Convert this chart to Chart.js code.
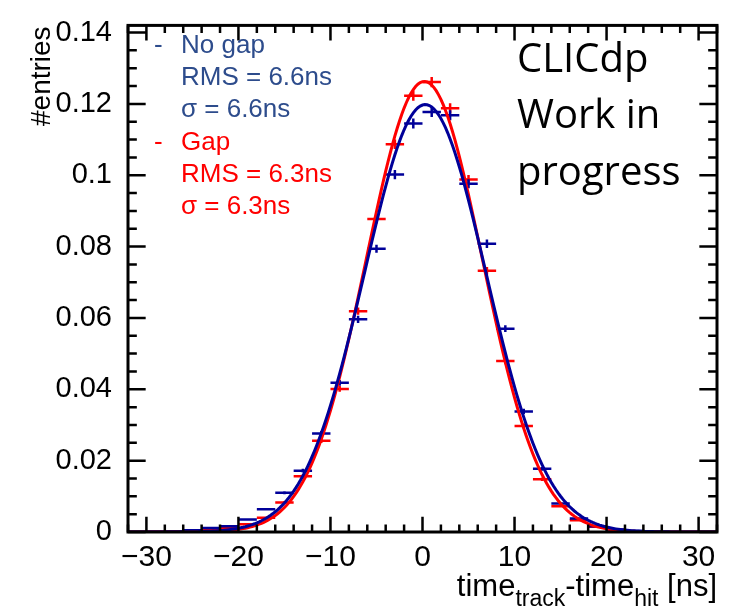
<!DOCTYPE html>
<html>
<head>
<meta charset="utf-8">
<script src="https://cdn.jsdelivr.net/npm/chart.js@4.4.1/dist/chart.umd.min.js"></script>
<style>
  html, body { margin: 0; padding: 0; background: #fff; }
  #wrap { width: 736px; height: 610px; }
</style>
</head>
<body>
<div id="wrap"><canvas id="timeChart" width="736" height="610"></canvas></div>
<script>
// bin centres (2 ns bins from -32 to 32)
const binCenters = [-31, -29, -27, -25, -23, -21, -19, -17, -15, -13, -11, -9, -7, -5, -3, -1,
  1, 3, 5, 7, 9, 11, 13, 15, 17, 19, 21, 23, 25, 27, 29, 31];

// normalised entries per bin
const noGapValues = [0.0000, 0.0001, 0.0002, 0.0005, 0.0011, 0.0016, 0.0035, 0.0064, 0.0110, 0.0172,
  0.0276, 0.0418, 0.0596, 0.0794, 0.1002, 0.1145, 0.1177, 0.1168, 0.0976, 0.0808, 0.0570, 0.0338,
  0.0177, 0.0080, 0.0038, 0.0016, 0.0006, 0.0003, 0.0001, 0.0000, 0.0000, 0.0000];
const gapValues = [0.0000, 0.0001, 0.0002, 0.0004, 0.0008, 0.0012, 0.0022, 0.0040, 0.0083, 0.0156,
  0.0256, 0.0401, 0.0619, 0.0877, 0.1087, 0.1223, 0.1261, 0.1188, 0.0988, 0.0732, 0.0479, 0.0297,
  0.0148, 0.0072, 0.0033, 0.0015, 0.0006, 0.0002, 0.0001, 0.0000, 0.0000, 0.0000];

// gaussian fit results [no gap, gap]
const fitConst = [0.1198, 0.1263];
const fitMean = [0.3, 0.2];
const fitSigma = [6.6, 6.3];

const seriesNames = ['No gap', 'Gap'];
const rmsValues = [6.6, 6.3];
const entriesTotal = 60000;

const xMajorTicks = [-30, -20, -10, 0, 10, 20, 30];
const yMajorTicks = [0, 0.02, 0.04, 0.06, 0.08, 0.1, 0.12, 0.14];
const xRange = [-32, 32];
const yRange = [0, 0.142];

const BLUE = '#000099';
const RED = '#ff0000';
const BLUE_TEXT = '#2d4c8c';
const LABEL_FONT = '"Liberation Sans", Arial, Helvetica, sans-serif';

function fitCurve(i) {
  const pts = [];
  for (let x = xRange[0]; x <= xRange[1] + 1e-9; x += 0.25) {
    const d = (x - fitMean[i]) / fitSigma[i];
    pts.push({ x: x, y: fitConst[i] * Math.exp(-0.5 * d * d) });
  }
  return pts;
}

function fmtY(v) {
  return v === 0 ? '0' : String(parseFloat(v.toFixed(2)));
}
function fmtX(v) {
  return v < 0 ? '\u2212' + Math.abs(v) : String(v);
}

// histogram points with horizontal bin-width bars and statistical error bars
const errorCrosses = {
  id: 'errorCrosses',
  beforeDatasetsDraw(chart) {
    const { ctx, chartArea, scales: { x, y } } = chart;
    const sets = [[gapValues, RED], [noGapValues, BLUE]];
    ctx.save();
    ctx.beginPath();
    ctx.rect(chartArea.left, chartArea.top, chartArea.width, chartArea.height);
    ctx.clip();
    ctx.lineWidth = 2.5;
    sets.forEach(([vals, color]) => {
      ctx.strokeStyle = color;
      binCenters.forEach((c, i) => {
        const v = vals[i];
        const err = Math.sqrt(v / entriesTotal);
        const py = y.getPixelForValue(v);
        const px = x.getPixelForValue(c);
        ctx.beginPath();
        ctx.moveTo(x.getPixelForValue(c - 1), py);
        ctx.lineTo(x.getPixelForValue(c + 1), py);
        ctx.moveTo(px, y.getPixelForValue(v - err));
        ctx.lineTo(px, y.getPixelForValue(v + err));
        ctx.stroke();
      });
    });
    ctx.restore();
  }
};

// ROOT style frame with inward ticks and the text annotations
const frameAndText = {
  id: 'frameAndText',
  afterDraw(chart) {
    const { ctx, chartArea: a, scales: { x, y } } = chart;
    const xTickLen = 0.03 * a.height;
    const yTickLen = 0.03 * a.width;
    ctx.save();
    ctx.strokeStyle = '#000';
    ctx.lineWidth = 2.5;
    ctx.beginPath();
    for (let v = xRange[0]; v <= xRange[1]; v += 2) {
      const px = x.getPixelForValue(v);
      const len = xMajorTicks.includes(v) ? xTickLen : xTickLen / 2;
      ctx.moveTo(px, a.bottom); ctx.lineTo(px, a.bottom - len);
      ctx.moveTo(px, a.top); ctx.lineTo(px, a.top + len);
    }
    for (let k = 0; k * 0.005 <= yRange[1] + 1e-9; k++) {
      const v = k * 0.005;
      const py = y.getPixelForValue(v);
      const len = k % 4 === 0 ? yTickLen : yTickLen / 2;
      ctx.moveTo(a.left, py); ctx.lineTo(a.left + len, py);
      ctx.moveTo(a.right, py); ctx.lineTo(a.right - len, py);
    }
    ctx.stroke();
    ctx.lineWidth = 3;
    ctx.strokeRect(a.left, a.top, a.width, a.height);

    // legend block
    ctx.font = '26px ' + LABEL_FONT;
    ctx.textBaseline = 'alphabetic';
    ctx.textAlign = 'left';
    const legendColors = [BLUE_TEXT, RED];
    seriesNames.forEach((name, i) => {
      const base = 53 + i * 97;
      ctx.fillStyle = legendColors[i];
      ctx.fillText('-', 154, base);
      ctx.fillText(name, 181, base);
      ctx.fillText('RMS = ' + rmsValues[i] + 'ns', 181, base + 32);
      ctx.fillText('\u03c3 = ' + fitSigma[i] + 'ns', 181, base + 64);
    });

    // label block
    ctx.fillStyle = '#000';
    ctx.font = '40px "Open Sans", sans-serif';
    ctx.fillText('CLICdp', 517, 72);
    ctx.fillText('Work in', 517, 128);
    ctx.fillText('progress', 517, 185);

    // x axis title with subscripts, right aligned to the frame
    const parts = [
      ['time', 0, 31], ['track', 10, 23], ['-time', 0, 31], ['hit', 10, 23], [' [ns]', 0, 31]
    ];
    const widths = parts.map(([t, , s]) => { ctx.font = s + 'px ' + LABEL_FONT; return ctx.measureText(t).width; });
    let cx = a.right - widths.reduce((p, q) => p + q, 0);
    parts.forEach(([t, dy, s], i) => {
      ctx.font = s + 'px ' + LABEL_FONT;
      ctx.fillText(t, cx, 596 + dy);
      cx += widths[i];
    });

    // y axis title, rotated and aligned to the top of the frame
    ctx.save();
    ctx.translate(50, a.top + 1);
    ctx.rotate(-Math.PI / 2);
    ctx.textAlign = 'right';
    ctx.font = '28px ' + LABEL_FONT;
    ctx.fillText('#entries', 0, 0);
    ctx.restore();
    ctx.restore();
  }
};

const ctx = document.getElementById('timeChart').getContext('2d');
new Chart(ctx, {
  type: 'scatter',
  data: {
    datasets: [
      {
        label: 'No gap fit',
        data: fitCurve(0),
        showLine: true,
        borderColor: BLUE,
        borderWidth: 3,
        pointRadius: 0,
        tension: 0
      },
      {
        label: 'Gap fit',
        data: fitCurve(1),
        showLine: true,
        borderColor: RED,
        borderWidth: 3,
        pointRadius: 0,
        tension: 0
      }
    ]
  },
  options: {
    responsive: false,
    animation: false,
    events: [],
    layout: { padding: { top: 12, right: 19, left: 0, bottom: 0 }, autoPadding: false },
    plugins: { legend: { display: false }, tooltip: { enabled: false } },
    scales: {
      x: {
        type: 'linear',
        min: xRange[0],
        max: xRange[1],
        grid: { display: false },
        border: { display: false },
        afterFit(scale) { scale.height = 78; },
        afterBuildTicks(scale) { scale.ticks = xMajorTicks.map(v => ({ value: v })); },
        ticks: {
          color: '#000',
          padding: 0,
          maxRotation: 0,
          font: { family: LABEL_FONT, size: 30 },
          callback: v => fmtX(v)
        }
      },
      y: {
        type: 'linear',
        min: yRange[0],
        max: yRange[1],
        grid: { display: false },
        border: { display: false },
        afterFit(scale) { scale.width = 128; },
        afterBuildTicks(scale) { scale.ticks = yMajorTicks.map(v => ({ value: v })); },
        ticks: {
          color: '#000',
          padding: 8,
          font: { family: LABEL_FONT, size: 29 },
          callback: v => fmtY(v)
        }
      }
    }
  },
  plugins: [errorCrosses, frameAndText]
});
</script>
</body>
</html>
